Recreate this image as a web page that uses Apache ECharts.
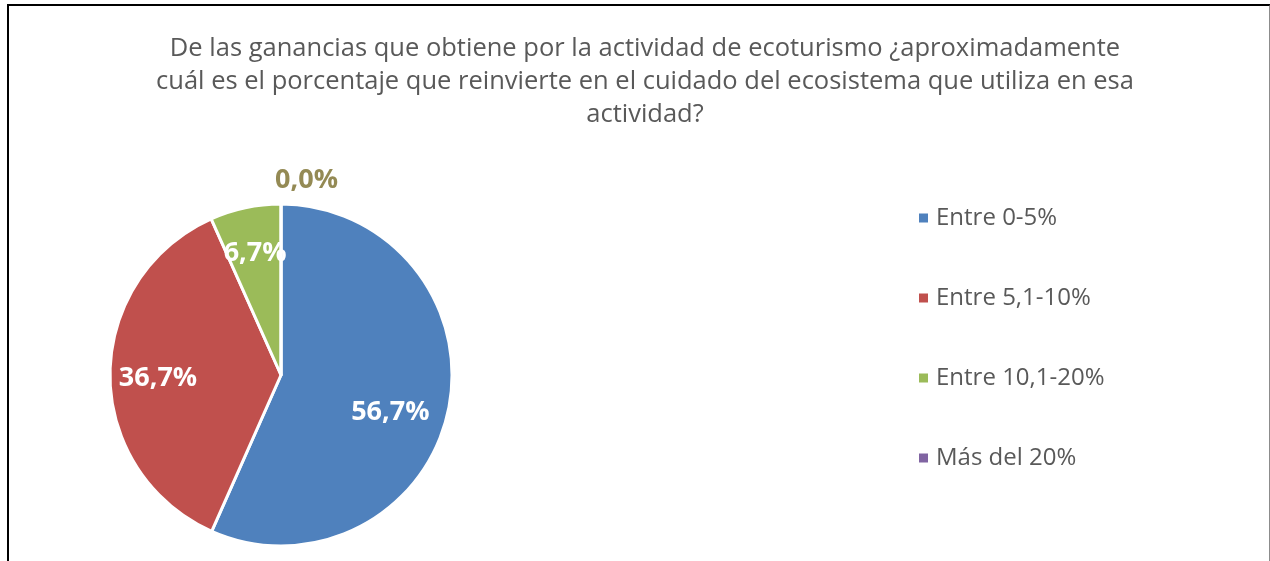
<!DOCTYPE html>
<html>
<head>
<meta charset="utf-8">
<script src="https://cdn.jsdelivr.net/npm/echarts@6/dist/echarts.min.js"></script>
<style>
  html, body { margin: 0; padding: 0; background: #fff; }
  #chart { position: absolute; left: 0; top: 0; width: 1270px; height: 561px; }
  #frame {
    position: absolute; left: 7px; top: 4px; width: 1260px; height: 600px;
    border-left: 2px solid #000; border-top: 2px solid #000; border-right: 2px solid #8c8c8c;
    pointer-events: none;
  }
</style>
</head>
<body>
<div id="chart"></div>
<div id="frame"></div>
<script>
// categorías y porcentajes
const categories = ["Entre 0-5%", "Entre 5,1-10%", "Entre 10,1-20%", "Más del 20%"];
const percents = [56.7, 36.7, 6.7, 0.0];
const colors = ["#4F81BD", "#C0504D", "#9BBB59", "#8064A2"];

const FONT = "'Open Sans', 'Noto Sans', sans-serif";
const fmt = v => v.toFixed(1).replace(".", ",") + "%";

const pieData = categories.map((name, i) => ({
  name: name,
  value: percents[i],
  itemStyle: { color: colors[i] },
  // la porción de 0% lleva la etiqueta por fuera
  label: percents[i] === 0 ? { show: true, offset: [62, -16] } : { show: false }
}));

// serie transparente solo para colocar las etiquetas interiores más hacia fuera
const labelData = categories.map((name, i) => ({
  name: name,
  value: percents[i],
  label: { show: percents[i] > 0, offset: i === 0 ? [-12, 12] : (i === 1 ? [1, 3] : [0, 0]) }
}));

const chart = echarts.init(document.getElementById("chart"));
chart.setOption({
  animation: false,
  title: {
    text: "De las ganancias que obtiene por la actividad de ecoturismo ¿aproximadamente\ncuál es el porcentaje que reinvierte en el cuidado del ecosistema que utiliza en esa\nactividad?",
    left: 640,
    textAlign: "center",
    top: 27,
    textStyle: { fontFamily: FONT, fontSize: 25.5, fontWeight: "normal", color: "#595959", lineHeight: 33 }
  },
  legend: {
    orient: "vertical",
    left: 912,
    top: 199,
    itemWidth: 11,
    itemHeight: 11,
    itemGap: 52,
    icon: "rect",
    data: categories.map((name, i) => ({ name: name, itemStyle: { color: colors[i] } })),
    textStyle: { fontFamily: FONT, fontSize: 24, color: "#595959", padding: [0, 0, 0, 2], lineHeight: 28 }
  },
  series: [
    {
      type: "pie",
      center: [281, 375],
      radius: 171,
      startAngle: 90,
      clockwise: true,
      silent: true,
      itemStyle: { borderColor: "#fff", borderWidth: 3 },
      label: {
        position: "outside",
        formatter: p => fmt(p.value),
        fontFamily: FONT, fontSize: 27, fontWeight: "bold", color: "#948A54"
      },
      labelLine: { show: false, length: 8, length2: 0 },
      data: pieData
    },
    {
      type: "pie",
      center: [281, 375],
      radius: 242,
      startAngle: 90,
      clockwise: true,
      silent: true,
      itemStyle: { color: "rgba(0,0,0,0)", borderWidth: 0 },
      label: {
        position: "inside",
        formatter: p => fmt(p.value),
        fontFamily: FONT, fontSize: 27, fontWeight: "bold", color: "#fff"
      },
      labelLine: { show: false },
      data: labelData
    }
  ]
});
</script>
</body>
</html>
